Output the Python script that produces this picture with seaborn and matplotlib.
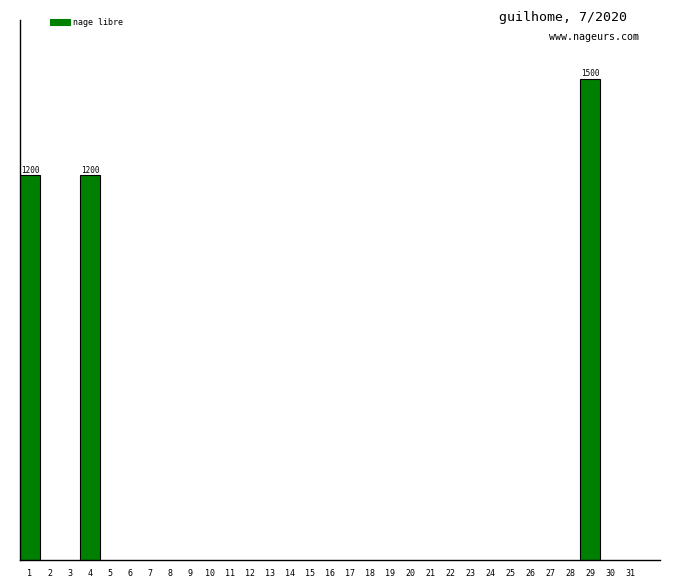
import matplotlib
matplotlib.use("Agg")
import matplotlib.pyplot as plt
import pandas as pd
import seaborn as sns

# distance per day (metres), July 2020
days = [1, 4, 29]
distances = [1200, 1200, 1500]
all_days = [str(d) for d in range(1, 32)]
stroke = "nage libre"
title = "guilhome, 7/2020"
site = "www.nageurs.com"

df = pd.DataFrame({"day": [str(d) for d in days], "distance": distances, "nage": stroke})

sns.set_style("white")
plt.rcParams["font.family"] = ["DejaVu Sans Mono"]
plt.rcParams["text.color"] = "black"
plt.rcParams["xtick.color"] = "black"

fig = plt.figure(figsize=(6.8, 5.8), dpi=100)
ax = fig.add_axes([20 / 680, 20 / 580, 640 / 680, 540 / 580])

sns.barplot(data=df, x="day", y="distance", hue="nage", order=all_days,
            palette=["#008000"], saturation=1, width=1.0, dodge=False,
            edgecolor="black", linewidth=0.8, ax=ax)

for cont in ax.containers:
    ax.bar_label(cont, fmt="%d", fontsize=5.5, padding=0.5, color="black")

ax.set_xlim(-0.5, 31.5)
ax.set_ylim(0, 1684)
ax.set_xlabel("")
ax.set_ylabel("")
ax.set_yticks([])
ax.tick_params(axis="x", length=0, pad=6.5, labelsize=6, labelcolor="black")

for side in ["top", "right"]:
    ax.spines[side].set_visible(False)
for side in ["left", "bottom"]:
    ax.spines[side].set_color("black")
    ax.spines[side].set_linewidth(1)

leg = ax.legend(loc="upper left", bbox_to_anchor=(50 / 680, 1 - 18 / 580),
                bbox_transform=fig.transFigure, frameon=False, fontsize=6,
                handlelength=2.4, handleheight=0.6, handletextpad=0.4,
                borderpad=0, borderaxespad=0)
for h in leg.legend_handles:
    h.set_edgecolor("#008000")
for t in leg.get_texts():
    t.set_color("black")

fig.text(627 / 680, 1 - 18 / 580, title, ha="right", va="center", fontsize=9.5)
fig.text(639 / 680, 1 - 37 / 580, site, ha="right", va="center", fontsize=7.2)

fig.savefig("out.png", dpi=100)
